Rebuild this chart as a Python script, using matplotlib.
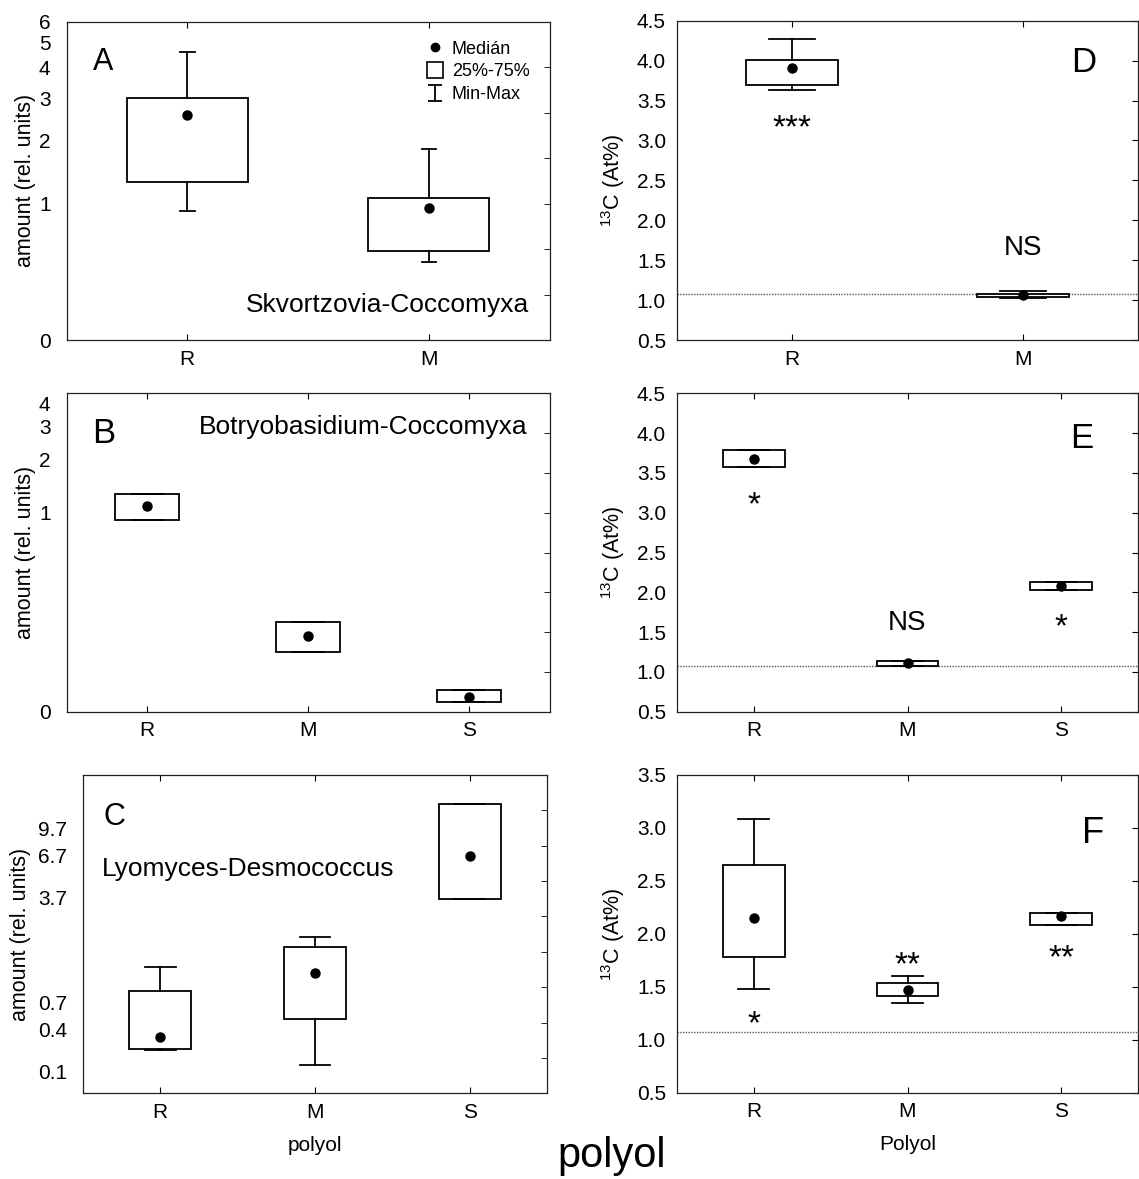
import numpy as np
import matplotlib
matplotlib.use('Agg')
import matplotlib.pyplot as plt
from matplotlib.lines import Line2D
from matplotlib.path import Path
from matplotlib.ticker import FixedLocator

plt.rcParams['font.family'] = ['Liberation Sans', 'DejaVu Sans']
plt.rcParams['mathtext.fontset'] = 'custom'
plt.rcParams['mathtext.rm'] = 'Liberation Sans'
plt.rcParams['mathtext.it'] = 'Liberation Sans:italic'

# categories
cats2 = ['R', 'M']
cats3 = ['R', 'M', 'S']

# A  Skvortzovia-Coccomyxa (amount, rel. units)
a_med = [2.56, 0.95]
a_q1 = [1.28, 0.52]
a_q3 = [3.0, 1.07]
a_min = [0.91, 0.44]
a_max = [4.6, 1.83]

# B  Botryobasidium-Coccomyxa
b_med = [1.09, 0.15, 0.020]
b_q1 = [0.91, 0.106, 0.012]
b_q3 = [1.28, 0.194, 0.030]

# C  Lyomyces-Desmococcus
c_med = [0.334, 1.17, 6.63]
c_q1 = [0.241, 0.498, 3.64]
c_q3 = [0.866, 1.77, 13.6]
c_min = [0.232, 0.135, 3.64]
c_max = [1.30, 2.07, 13.6]

# D  13C (At%)
d_med = [3.91, 1.06]
d_q1 = [3.69, 1.04]
d_q3 = [4.01, 1.08]
d_min = [3.63, 1.02]
d_max = [4.27, 1.11]
d_sig = ['***', 'NS']
d_sig_y = [3.28, 1.69]

# E
e_med = [3.68, 1.11, 2.08]
e_q1 = [3.58, 1.07, 2.03]
e_q3 = [3.79, 1.14, 2.13]
e_sig = ['*', 'NS', '*']
e_sig_y = [3.22, 1.65, 1.69]

# F
f_med = [2.15, 1.47, 2.17]
f_q1 = [1.78, 1.41, 2.08]
f_q3 = [2.65, 1.54, 2.20]
f_min = [1.48, 1.35, 2.08]
f_max = [3.08, 1.60, 2.20]
f_sig = ['*', '**', '**']
f_sig_y = [1.24, 1.80, 1.86]

natural_13c = 1.07

# y tick labels of the amount panels
a_ticks = [0, 1, 2, 3, 4, 5, 6]
b_ticks = [0, 1, 2, 3, 4]
c_ticks = [0.1, 0.4, 0.7, 3.7, 6.7, 9.7]


def draw_boxes(ax, med, q1, q3, lo, hi, width, capw):
    stats = []
    for i in range(len(med)):
        stats.append(dict(med=med[i], mean=med[i], q1=q1[i], q3=q3[i],
                          whislo=lo[i], whishi=hi[i], fliers=[]))
    ax.bxp(stats, positions=list(range(1, len(med) + 1)), widths=width,
           capwidths=capw, patch_artist=True, showmeans=True, showfliers=False,
           manage_ticks=False,
           boxprops=dict(facecolor='white', edgecolor='black', linewidth=1.3),
           whiskerprops=dict(color='black', linewidth=1.3),
           capprops=dict(color='black', linewidth=1.3),
           medianprops=dict(linewidth=0),
           meanprops=dict(marker='o', markerfacecolor='black',
                          markeredgecolor='black', markersize=6.5))


def style_common(ax, cats):
    n = len(cats)
    ax.set_xlim(0.5, n + 0.5)
    ax.set_xticks(range(1, n + 1), cats)
    ax.tick_params(axis='x', top=True, bottom=True, direction='in', length=4,
                   pad=7, labelsize=15)
    for sp in ax.spines.values():
        sp.set_linewidth(0.9)
        sp.set_color('#222222')


def setup_amount(ax, c, top, n_right, ticks):
    fwd = lambda y: np.log10(np.asarray(y, dtype=float) + c)
    inv = lambda t: 10 ** np.asarray(t, dtype=float) - c
    ax.set_yscale('function', functions=(fwd, inv))
    ax.set_ylim(0, top)
    ax.set_yticks(ticks, [str(t) for t in ticks])
    ax.yaxis.set_minor_locator(FixedLocator(inv(np.linspace(fwd(0), fwd(top), n_right + 1))))
    ax.yaxis.remove_overlapping_locs = False
    ax.tick_params(axis='y', which='major', left=False, right=False, labelsize=15, pad=8)
    ax.tick_params(axis='y', which='minor', left=False, right=True, direction='in', length=4)
    ax.set_ylabel('amount (rel. units)', fontsize=15.5)


def setup_c13(ax, top):
    ax.set_ylim(0.5, top)
    ticks = np.arange(0.5, top + 0.01, 0.5)
    ax.set_yticks(ticks, ['%.1f' % t for t in ticks])
    ax.tick_params(axis='y', left=False, right=True, direction='in', length=4,
                   labelsize=15, pad=8)
    ax.set_ylabel('$^{13}$C (At%)', fontsize=15.5)
    ax.yaxis.set_label_coords(-0.108, 0.5)
    ax.axhline(natural_13c, color='#555555', lw=1, ls=(0, (1, 1)), zorder=1)


def signif(ax, labels, ys):
    for i, (s, y) in enumerate(zip(labels, ys)):
        if s == 'NS':
            ax.annotate(s, (i + 1, y), xytext=(0, -7.2), textcoords='offset points',
                        ha='center', va='baseline', fontsize=20)
        else:
            ax.annotate(s, (i + 1, y), xytext=(0, -13.7), textcoords='offset points',
                        ha='center', va='baseline', fontsize=24)


W, H = 1139, 1179
fig = plt.figure(figsize=(W / 100, H / 100), dpi=100)


def axes_px(left, top, right, bottom):
    return fig.add_axes([left / W, 1 - bottom / H, (right - left) / W, (bottom - top) / H])


axA = axes_px(66.5, 21.5, 549.6, 340)
axB = axes_px(66.5, 393.3, 549.6, 711.7)
axC = axes_px(82.9, 775, 547.1, 1093.3)
axD = axes_px(677, 20.7, 1138, 340)
axE = axes_px(677, 393.3, 1138, 711.7)
axF = axes_px(677, 775, 1138, 1092.7)

# A
style_common(axA, cats2)
setup_amount(axA, 0.5, 6, 7, a_ticks)
draw_boxes(axA, a_med, a_q1, a_q3, a_min, a_max, 0.5, 0.06)
axA.yaxis.set_label_coords(-0.063, 0.5)
axA.text(0.054, 0.848, 'A', transform=axA.transAxes, fontsize=22, va='baseline')
axA.text(0.958, 0.089, 'Skvortzovia-Coccomyxa', transform=axA.transAxes,
         fontsize=19, ha='right', va='baseline')
ibar = Path([(-0.42, -0.5), (0.42, -0.5), (0, -0.5), (0, 0.5), (-0.42, 0.5), (0.42, 0.5)],
            [Path.MOVETO, Path.LINETO, Path.MOVETO, Path.LINETO, Path.MOVETO, Path.LINETO])
handles = [Line2D([], [], ls='', marker='o', color='k', ms=6),
           Line2D([], [], ls='', marker='s', mfc='white', mec='k', ms=11.5, mew=1.2),
           Line2D([], [], ls='', marker=ibar, mfc='none', mec='k', ms=12, mew=1.3)]
axA.legend(handles, ['Medián', '25%-75%', 'Min-Max'], loc='upper left',
           bbox_to_anchor=(0.745, 0.94), frameon=False, fontsize=13,
           handlelength=1.0, handletextpad=0.4, labelspacing=0.32,
           borderpad=0, borderaxespad=0)

# B
style_common(axB, cats3)
setup_amount(axB, 0.1, 4.54, 8, b_ticks)
draw_boxes(axB, b_med, b_q1, b_q3, b_q1, b_q3, 0.4, 0.2)
axB.yaxis.set_label_coords(-0.063, 0.5)
axB.text(0.054, 0.843, 'B', transform=axB.transAxes, fontsize=25, va='baseline')
axB.text(0.955, 0.872, 'Botryobasidium-Coccomyxa', transform=axB.transAxes,
         fontsize=19, ha='right', va='baseline')

# C
style_common(axC, cats3)
setup_amount(axC, 0.3, 20, 9, c_ticks)
draw_boxes(axC, c_med, c_q1, c_q3, c_min, c_max, 0.4, 0.2)
axC.yaxis.set_label_coords(-0.112, 0.5)
axC.text(0.045, 0.843, 'C', transform=axC.transAxes, fontsize=22, va='baseline')
axC.text(0.041, 0.683, 'Lyomyces-Desmococcus', transform=axC.transAxes,
         fontsize=19, ha='left', va='baseline')
axC.set_xlabel('polyol', fontsize=15, labelpad=10)

# D
style_common(axD, cats2)
setup_c13(axD, 4.5)
draw_boxes(axD, d_med, d_q1, d_q3, d_min, d_max, 0.4, 0.2)
signif(axD, d_sig, d_sig_y)
axD.text(0.856, 0.840, 'D', transform=axD.transAxes, fontsize=25, va='baseline')

# E
style_common(axE, cats3)
setup_c13(axE, 4.5)
draw_boxes(axE, e_med, e_q1, e_q3, e_q1, e_q3, 0.4, 0.2)
signif(axE, e_sig, e_sig_y)
axE.text(0.852, 0.827, 'E', transform=axE.transAxes, fontsize=25, va='baseline')

# F
style_common(axF, cats3)
setup_c13(axF, 3.5)
draw_boxes(axF, f_med, f_q1, f_q3, f_min, f_max, 0.4, 0.2)
signif(axF, f_sig, f_sig_y)
axF.text(0.879, 0.785, 'F', transform=axF.transAxes, fontsize=26, va='baseline')
axF.set_xlabel('Polyol', fontsize=15, labelpad=10)

fig.text(611.7 / W, 1 - 1166.7 / H, 'polyol', fontsize=30, ha='center', va='baseline')

fig.savefig('out.png', dpi=100, facecolor='white')
